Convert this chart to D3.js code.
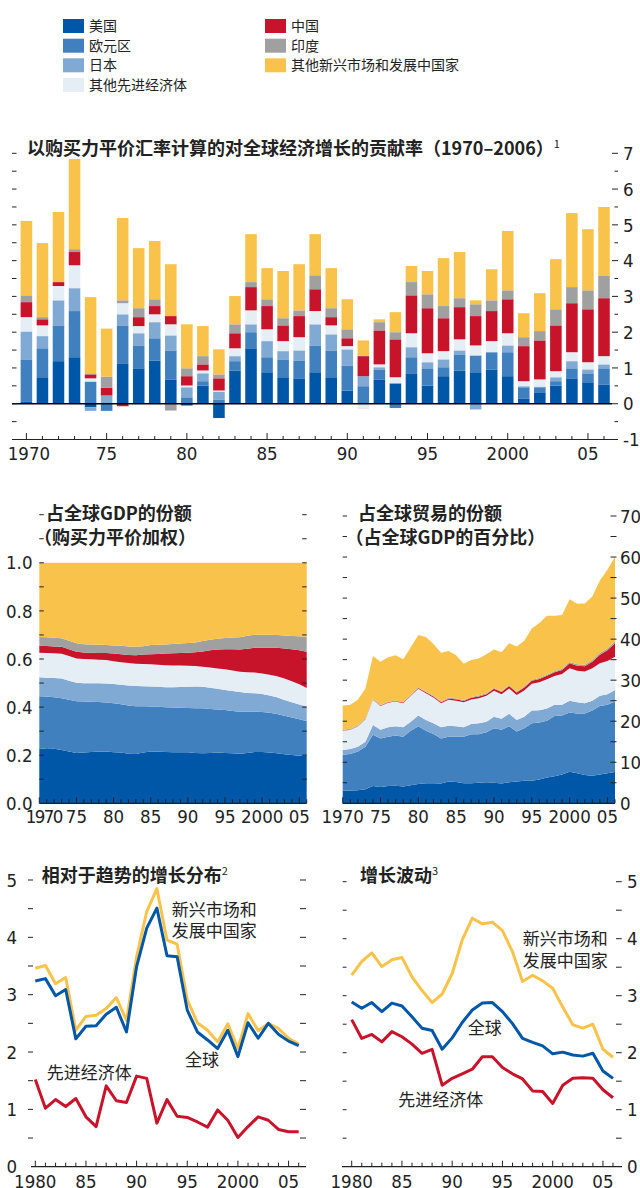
<!DOCTYPE html>
<html><head><meta charset="utf-8">
<script src="https://cdn.jsdelivr.net/npm/d3@7"></script>
<style>body{margin:0;background:#fff}svg{display:block}</style>
</head><body>
<svg id="chart" width="640" height="1188"></svg>
<script>
// ---------------- DATA ----------------
const seriesKeys = ["us","ea","jp","oa","cn","in","oem"];
const seriesNames = ["美国","欧元区","日本","其他先进经济体","中国","印度","其他新兴市场和发展中国家"];

const years = [1970,1971,1972,1973,1974,1975,1976,1977,1978,1979,1980,1981,1982,1983,1984,1985,1986,1987,1988,1989,1990,1991,1992,1993,1994,1995,1996,1997,1998,1999,2000,2001,2002,2003,2004,2005,2006];

// Contributions to world growth (PPP), percentage points
const contribUS  = [0.05,0.74,1.19,1.30,-0.10,0.00,1.13,0.99,1.21,0.68,-0.05,0.51,-0.40,0.93,1.55,0.88,0.74,0.71,0.88,0.74,0.37,0.00,0.68,0.57,0.85,0.51,0.77,0.93,0.88,0.96,0.77,0.15,0.32,0.51,0.71,0.60,0.54];
const contribEA  = [1.19,0.81,1.00,1.29,0.62,-0.20,1.06,0.64,0.62,0.81,0.18,0.12,0.12,0.26,0.45,0.42,0.50,0.50,0.75,0.75,0.70,0.49,0.28,-0.12,0.45,0.48,0.25,0.45,0.47,0.48,0.67,0.31,0.14,0.12,0.28,0.25,0.45];
const contribJP  = [0.78,0.34,0.70,0.64,-0.10,0.23,0.31,0.34,0.45,0.42,0.28,0.22,0.22,0.14,0.22,0.45,0.23,0.28,0.59,0.45,0.45,0.28,0.06,0.00,0.28,0.17,0.22,0.11,-0.16,0.00,0.19,0.03,0.02,0.11,0.20,0.11,0.11];
const contribOA  = [0.40,0.30,0.40,0.64,0.09,0.00,0.31,0.20,0.22,0.31,0.05,0.08,0.03,0.22,0.39,0.33,0.28,0.37,0.37,0.25,0.09,-0.15,0.08,0.17,0.39,0.25,0.23,0.31,0.28,0.31,0.34,0.14,0.20,0.17,0.25,0.20,0.23];
const contribCN  = [0.42,0.17,0.11,0.37,0.11,0.22,-0.07,0.25,0.23,0.23,0.26,0.17,0.34,0.42,0.65,0.65,0.44,0.59,0.61,0.23,0.22,0.56,0.95,1.06,1.06,1.26,0.92,0.90,0.82,0.84,0.95,0.98,1.09,1.28,1.37,1.48,1.62];
const contribIN  = [0.19,0.06,0.00,0.08,0.03,0.31,0.08,0.25,0.19,-0.19,0.22,0.23,0.11,0.25,0.14,0.19,0.20,0.16,0.39,0.25,0.25,0.02,0.23,0.20,0.37,0.39,0.34,0.25,0.33,0.30,0.25,0.25,0.26,0.45,0.45,0.53,0.62];
const contribOEM = [2.08,2.07,1.96,2.52,2.13,1.34,2.30,1.68,1.63,1.45,1.23,0.84,0.70,0.79,1.34,0.87,1.32,1.29,1.15,1.12,0.84,0.42,0.08,0.56,0.45,0.65,1.34,1.29,0.11,0.87,1.66,0.67,1.06,1.40,2.07,1.71,1.93];

// Share of world GDP (PPP weights)
const gdpUS  = [0.229,0.226,0.227,0.222,0.215,0.209,0.211,0.213,0.215,0.215,0.212,0.211,0.206,0.205,0.211,0.215,0.215,0.213,0.212,0.212,0.212,0.209,0.208,0.209,0.211,0.209,0.208,0.206,0.209,0.213,0.213,0.211,0.208,0.204,0.201,0.198,0.197];
const gdpEA  = [0.216,0.218,0.214,0.215,0.216,0.215,0.212,0.209,0.206,0.204,0.204,0.201,0.201,0.199,0.193,0.187,0.186,0.186,0.186,0.185,0.184,0.186,0.187,0.183,0.179,0.179,0.176,0.175,0.172,0.169,0.167,0.165,0.163,0.160,0.156,0.152,0.145];
const gdpJP  = [0.079,0.078,0.080,0.082,0.079,0.077,0.076,0.077,0.078,0.079,0.080,0.081,0.083,0.084,0.083,0.084,0.084,0.084,0.085,0.087,0.089,0.091,0.090,0.088,0.086,0.083,0.083,0.082,0.078,0.076,0.074,0.072,0.070,0.066,0.063,0.061,0.060];
const gdpOA  = [0.102,0.103,0.103,0.103,0.102,0.101,0.101,0.100,0.098,0.098,0.095,0.094,0.093,0.092,0.092,0.092,0.091,0.091,0.090,0.089,0.087,0.085,0.083,0.085,0.085,0.086,0.085,0.084,0.086,0.086,0.086,0.087,0.087,0.089,0.088,0.084,0.077];
const gdpCN  = [0.029,0.029,0.028,0.029,0.029,0.028,0.027,0.027,0.028,0.029,0.032,0.033,0.034,0.036,0.040,0.042,0.045,0.049,0.051,0.052,0.054,0.057,0.063,0.071,0.078,0.084,0.089,0.093,0.098,0.103,0.107,0.112,0.119,0.125,0.133,0.141,0.151];
const gdpIN  = [0.036,0.036,0.036,0.035,0.035,0.035,0.034,0.034,0.034,0.033,0.033,0.035,0.035,0.035,0.034,0.038,0.038,0.037,0.038,0.039,0.041,0.041,0.044,0.044,0.045,0.046,0.048,0.050,0.054,0.054,0.054,0.054,0.053,0.054,0.055,0.059,0.063];
const gdpOEM = [0.309,0.310,0.312,0.314,0.324,0.335,0.339,0.340,0.341,0.342,0.344,0.345,0.348,0.349,0.347,0.342,0.341,0.340,0.338,0.336,0.333,0.331,0.325,0.320,0.316,0.313,0.311,0.310,0.303,0.299,0.299,0.299,0.300,0.302,0.304,0.305,0.307];

// Share of world trade (percent of world GDP)
const tradeUS  = [3.1,3.1,3.2,3.4,4.2,4.0,4.2,4.3,4.1,4.4,4.7,4.9,4.9,4.8,5.3,5.2,4.9,4.9,5.0,5.1,5.0,4.8,5.1,5.3,5.5,5.5,5.8,6.3,6.6,7.0,7.7,7.3,6.9,6.7,7.0,7.3,7.6];
const tradeEA  = [8.7,8.9,9.4,10.4,12.5,11.8,12.0,12.2,12.1,13.3,14.1,12.8,12.0,11.0,10.9,11.0,11.3,11.9,11.8,12.2,13.3,13.1,13.7,12.2,12.8,14.0,13.9,13.8,14.7,14.4,14.4,14.6,15.0,15.9,16.7,16.7,17.2];
const tradeJP  = [1.2,1.2,1.2,1.2,2.4,2.1,2.3,2.3,2.3,2.2,2.6,2.6,2.6,2.7,2.7,2.6,2.3,2.5,2.7,2.6,2.8,2.7,3.0,2.8,2.8,3.1,3.0,3.0,2.7,2.6,2.9,2.7,2.5,2.4,2.5,2.6,2.8];
const tradeOA  = [4.6,4.7,4.9,5.5,6.1,5.8,6.0,6.0,5.9,6.3,6.5,6.5,6.3,5.9,6.3,6.2,6.1,6.0,6.1,6.3,6.3,6.0,6.2,6.1,6.4,6.5,6.8,7.1,7.0,7.5,7.9,7.7,7.7,7.9,7.9,8.1,8.1];
const tradeCN  = [0.1,0.1,0.1,0.1,0.1,0.1,0.1,0.1,0.15,0.15,0.2,0.25,0.25,0.25,0.3,0.35,0.35,0.4,0.45,0.4,0.5,0.5,0.55,0.6,0.7,0.75,0.8,0.85,0.9,1.0,1.2,1.2,1.3,1.6,2.1,2.6,3.3];
const tradeIN  = [0.15,0.15,0.15,0.15,0.15,0.15,0.15,0.15,0.15,0.15,0.15,0.15,0.15,0.15,0.2,0.2,0.2,0.2,0.2,0.2,0.2,0.2,0.2,0.2,0.25,0.25,0.25,0.3,0.3,0.3,0.3,0.35,0.35,0.35,0.4,0.4,0.45];
const tradeOEM = [5.95,5.85,6.25,7.25,10.45,10.55,10.85,11.05,10.4,11.5,12.75,13.3,12.6,11.9,11.4,10.55,8.85,9.0,9.05,9.5,9.4,9.5,10.25,11.0,11.15,12.5,13.35,14.35,13.5,13.1,15.3,14.75,14.95,15.55,17.7,19.2,20.65];

// Bottom panels, 1980-2006
const years80 = [1980,1981,1982,1983,1984,1985,1986,1987,1988,1989,1990,1991,1992,1993,1994,1995,1996,1997,1998,1999,2000,2001,2002,2003,2004,2005,2006];
const distEM    = [3.46,3.51,3.19,3.30,2.38,2.62,2.64,2.76,2.95,2.55,3.66,4.45,4.85,3.95,3.88,2.91,2.51,2.38,2.18,2.49,2.06,2.67,2.37,2.50,2.41,2.24,2.14];
const distWorld = [3.24,3.28,2.98,3.09,2.23,2.45,2.46,2.66,2.78,2.35,3.49,4.16,4.51,3.68,3.66,2.73,2.35,2.21,2.06,2.38,1.92,2.51,2.24,2.50,2.31,2.19,2.11];
const distAdv   = [1.52,1.02,1.17,1.05,1.19,0.87,0.70,1.41,1.15,1.12,1.58,1.54,0.76,1.17,0.88,0.86,0.78,0.69,0.99,0.81,0.51,0.70,0.87,0.81,0.65,0.61,0.61];

const volEM    = [3.36,3.60,3.75,3.51,3.63,3.67,3.33,3.09,2.88,3.03,3.39,3.98,4.36,4.26,4.29,4.14,3.77,3.25,3.36,3.26,3.13,2.80,2.49,2.43,2.50,2.06,1.92];
const volWorld = [2.89,2.78,2.88,2.72,2.87,2.82,2.63,2.43,2.39,2.06,2.26,2.53,2.75,2.87,2.88,2.72,2.51,2.25,2.18,2.12,1.98,2.01,1.96,1.94,1.99,1.68,1.55];
const volAdv   = [2.58,2.25,2.32,2.19,2.37,2.28,2.15,1.99,2.06,1.43,1.55,1.63,1.71,1.93,1.93,1.74,1.63,1.54,1.33,1.32,1.11,1.43,1.55,1.56,1.55,1.35,1.21];

// Tick labels
const topTickYears = [1970,1975,1980,1985,1990,1995,2000,2005];
const topTickLabels = ["1970","75","80","85","90","95","2000","05"];
const bottomTickYears = [1980,1985,1990,1995,2000,2005];
const bottomTickLabels = ["1980","85","90","95","2000","05"];

// ---------------- STYLE ----------------
const colors = {us:"#0056A7", ea:"#4180BF", jp:"#80A9D4", oa:"#E5EDF5", cn:"#C8142B", in:"#A0A0A0", oem:"#F9C34B"};
const CJK = '"Noto Sans CJK SC","Noto Sans",sans-serif';
const NUM = '"Liberation Sans Narrow","DejaVu Sans Condensed","Liberation Sans",sans-serif';
const INK = "#222";

const svg = d3.select("#chart");

function rows(arrs, yrs) {
  return yrs.map((y, i) => {
    const r = {year: y};
    seriesKeys.forEach((k, j) => r[k] = arrs[j][i]);
    return r;
  });
}
function hticks(g, yScale, vals, x1, x2) {
  g.append("g").selectAll("line").data(vals).join("line")
    .attr("x1", x1).attr("x2", x2)
    .attr("y1", d => yScale(d)).attr("y2", d => yScale(d))
    .attr("stroke", INK).attr("stroke-width", 1);
}
function title(x, y, text, sup) {
  const t = svg.append("text").attr("x", x).attr("y", y)
    .attr("font-family", CJK).attr("font-size", 18).attr("font-weight", 700).attr("fill", INK)
    .text(text);
  if (sup) t.append("tspan").attr("font-size", 11).attr("dy", -7).attr("font-weight", 400).text(sup);
}

// ---------------- LEGEND ----------------
const legendRowsY = [19, 38.7, 58.3, 78];
const legend = svg.append("g");
seriesKeys.forEach((k, i) => {
  const col = i < 4 ? 0 : 1;
  const row = i < 4 ? i : i - 4;
  const lx = col === 0 ? 63 : 265;
  legend.append("rect").attr("x", lx).attr("y", legendRowsY[row]).attr("width", 21).attr("height", 14).attr("fill", colors[k]);
  legend.append("text").attr("x", lx + 26).attr("y", legendRowsY[row] + 12)
    .attr("font-family", CJK).attr("font-size", 14).attr("fill", INK).text(seriesNames[i]);
});

// ---------------- TOP: contributions ----------------
{
  const data = rows([contribUS, contribEA, contribJP, contribOA, contribCN, contribIN, contribOEM], years);
  const x = d3.scaleBand().domain(years).range([18.38, 612.02]).paddingInner(0.28).paddingOuter(0.14);
  const y = d3.scaleLinear().domain([-1, 7]).range([439.5, 153.3]);
  const stacked = d3.stack().keys(seriesKeys).offset(d3.stackOffsetDiverging)(data);
  const g = svg.append("g");
  g.selectAll("g.s").data(stacked).join("g").attr("fill", s => colors[s.key])
    .selectAll("rect").data(s => s).join("rect")
    .attr("x", d => x(d.data.year)).attr("width", x.bandwidth())
    .attr("y", d => y(Math.max(d[0], d[1]))).attr("height", d => Math.abs(y(d[0]) - y(d[1])));
  // zero line
  g.append("line").attr("x1", 12).attr("x2", 612).attr("y1", y(0)).attr("y2", y(0)).attr("stroke", "#000").attr("stroke-width", 1.3);
  // y ticks
  const halfs = d3.range(-0.5, 7.01, 0.5);
  hticks(g, y, halfs, 12, 16.5);
  hticks(g, y, halfs.filter(v => v % 1 !== 0), 614.5, 618);
  hticks(g, y, halfs.filter(v => v % 1 === 0), 612, 618);
  g.selectAll("text.yl").data(d3.range(-1, 8)).join("text")
    .attr("x", 623).attr("y", d => y(d)).attr("dy", "0.36em")
    .attr("font-family", NUM).attr("font-size", 18.5).attr("fill", INK)
    .text(d => d < 0 ? "-" + Math.abs(d) : d);
  // x axis
  g.append("line").attr("x1", 12).attr("x2", 618).attr("y1", y(-1)).attr("y2", y(-1)).attr("stroke", INK).attr("stroke-width", 1.2);
  g.selectAll("line.xt").data(years).join("line")
    .attr("x1", d => x(d) + x.bandwidth() / 2).attr("x2", d => x(d) + x.bandwidth() / 2)
    .attr("y1", y(-1)).attr("y2", d => y(-1) - (d % 5 === 0 ? 6.5 : 3.5))
    .attr("stroke", INK).attr("stroke-width", 1);
  g.selectAll("text.xl").data(topTickYears).join("text")
    .attr("x", (d, i) => x(d) + x.bandwidth() / 2 + (i === 0 ? 2.5 : 0)).attr("y", 460)
    .attr("text-anchor", "middle").attr("font-family", NUM).attr("font-size", 18.5).attr("fill", INK)
    .text((d, i) => topTickLabels[i]);
  title(27, 154.5, "以购买力平价汇率计算的对全球经济增长的贡献率（1970–2006）", "1");
}

// ---------------- MIDDLE LEFT: GDP share ----------------
{
  const data = rows([gdpUS, gdpEA, gdpJP, gdpOA, gdpCN, gdpIN, gdpOEM], years);
  const x = d3.scaleLinear().domain([1970, 2006]).range([39.3, 306.7]);
  const y = d3.scaleLinear().domain([0, 1.2]).range([803.3, 514.7]);
  const stacked = d3.stack().keys(seriesKeys)(data);
  const area = d3.area().x(d => x(d.data.year)).y0(d => y(d[0])).y1(d => y(d[1]));
  const g = svg.append("g");
  g.selectAll("path").data(stacked).join("path").attr("d", area).attr("fill", s => colors[s.key]);
  const tv = d3.range(1, 13).map(v => v / 10);
  hticks(g, y, tv, 39.3, 43.8);
  hticks(g, y, tv, 302.2, 306.7);
  g.selectAll("text.yl").data([0, 0.2, 0.4, 0.6, 0.8, 1.0]).join("text")
    .attr("x", 32.5).attr("y", d => y(d)).attr("dy", "0.36em").attr("text-anchor", "end")
    .attr("font-family", NUM).attr("font-size", 18.5).attr("fill", INK).text(d => d.toFixed(1));
  g.append("line").attr("x1", 39.3).attr("x2", 306.7).attr("y1", y(0)).attr("y2", y(0)).attr("stroke", INK).attr("stroke-width", 1.2);
  g.selectAll("line.xt").data(years).join("line")
    .attr("x1", d => x(d)).attr("x2", d => x(d)).attr("y1", y(0)).attr("y2", d => y(0) - (d % 5 === 0 ? 6 : 4))
    .attr("stroke", INK).attr("stroke-width", 1);
  g.selectAll("text.xl").data(topTickYears).join("text")
    .attr("x", (d, i) => x(d) + (i === 0 ? 4.5 : 0)).attr("y", 823)
    .attr("text-anchor", "middle").attr("font-family", NUM).attr("font-size", 18.5).attr("fill", INK)
    .attr("letter-spacing", (d, i) => i === 0 ? -1.6 : 0)
    .text((d, i) => topTickLabels[i]);
  title(46, 520, "占全球GDP的份额");
  title(34, 543.5, "（购买力平价加权）");
}

// ---------------- MIDDLE RIGHT: trade share ----------------
{
  const data = rows([tradeUS, tradeEA, tradeJP, tradeOA, tradeCN, tradeIN, tradeOEM], years);
  const x = d3.scaleLinear().domain([1970, 2006]).range([342.7, 615]);
  const y = d3.scaleLinear().domain([0, 70]).range([803.3, 516]);
  const stacked = d3.stack().keys(seriesKeys)(data);
  const area = d3.area().x(d => x(d.data.year)).y0(d => y(d[0])).y1(d => y(d[1]));
  const g = svg.append("g");
  g.selectAll("path").data(stacked).join("path").attr("d", area).attr("fill", s => colors[s.key]);
  const tv = d3.range(5, 71, 5);
  hticks(g, y, tv, 342.7, 347);
  hticks(g, y, tv, 610.5, 616.5);
  g.selectAll("text.yl").data(d3.range(0, 71, 10)).join("text")
    .attr("x", 620).attr("y", d => y(d)).attr("dy", "0.36em")
    .attr("font-family", NUM).attr("font-size", 18.5).attr("fill", INK).text(d => d);
  g.append("line").attr("x1", 342.7).attr("x2", 615).attr("y1", y(0)).attr("y2", y(0)).attr("stroke", INK).attr("stroke-width", 1.2);
  g.selectAll("line.xt").data(years).join("line")
    .attr("x1", d => x(d)).attr("x2", d => x(d)).attr("y1", y(0)).attr("y2", d => y(0) - (d % 5 === 0 ? 6 : 4))
    .attr("stroke", INK).attr("stroke-width", 1);
  g.selectAll("text.xl").data(topTickYears).join("text")
    .attr("x", d => x(d)).attr("y", 823)
    .attr("text-anchor", "middle").attr("font-family", NUM).attr("font-size", 18.5).attr("fill", INK)
    .text((d, i) => topTickLabels[i]);
  title(358, 520, "占全球贸易的份额");
  title(345.5, 543.5, "（占全球GDP的百分比）");
}

// ---------------- BOTTOM PANELS ----------------
function linePanel(opt) {
  const x = d3.scaleLinear().domain([1980, 2006]).range(opt.xr);
  const y = d3.scaleLinear().domain([0, 5]).range(opt.yr);
  const g = svg.append("g");
  const tv = d3.range(0.5, 5.01, 0.5);
  hticks(g, y, tv, opt.lt[0], opt.lt[1]);
  hticks(g, y, tv, opt.rt[0], opt.rt[1]);
  g.selectAll("text.yl").data([0, 1, 2, 3, 4, 5]).join("text")
    .attr("x", opt.lx).attr("y", d => y(d)).attr("dy", "0.36em").attr("text-anchor", opt.la)
    .attr("font-family", NUM).attr("font-size", 18.5).attr("fill", INK).text(d => d);
  g.append("line").attr("x1", opt.ax[0]).attr("x2", opt.ax[1]).attr("y1", y(0)).attr("y2", y(0)).attr("stroke", INK).attr("stroke-width", 1.2);
  g.selectAll("line.xt").data(years80).join("line")
    .attr("x1", d => x(d)).attr("x2", d => x(d)).attr("y1", y(0)).attr("y2", d => y(0) - (d % 5 === 0 ? 6 : 4))
    .attr("stroke", INK).attr("stroke-width", 1);
  g.selectAll("text.xl").data(bottomTickYears).join("text")
    .attr("x", d => x(d)).attr("y", 1187.5)
    .attr("text-anchor", "middle").attr("font-family", NUM).attr("font-size", 18.5).attr("fill", INK)
    .text((d, i) => bottomTickLabels[i]);
  const line = d3.line().x((d, i) => x(years80[i])).y(d => y(d));
  [[opt.em, colors.oem], [opt.world, colors.us], [opt.adv, colors.cn]].forEach(([vals, c]) => {
    g.append("path").datum(vals).attr("d", line).attr("fill", "none").attr("stroke", c)
      .attr("stroke-width", 3).attr("stroke-linejoin", "round");
  });
  opt.notes.forEach(n => {
    g.append("text").attr("x", n[0]).attr("y", n[1]).attr("font-family", CJK).attr("font-size", 17)
      .attr("fill", INK).text(n[2]);
  });
}
linePanel({xr: [35.3, 298.7], yr: [1166.7, 880], lt: [28, 33], rt: [300, 306], lx: 17, la: "end", ax: [31, 306],
  em: distEM, world: distWorld, adv: distAdv,
  notes: [[171.7, 915.5, "新兴市场和"], [171.7, 937, "发展中国家"], [185, 1066, "全球"], [46.7, 1078.5, "先进经济体"]]});
title(41.7, 882, "相对于趋势的增长分布", "2");
linePanel({xr: [351.7, 613], yr: [1166.7, 881.7], lt: [342.7, 346.5], rt: [616, 621.7], lx: 627, la: "start", ax: [342, 622],
  em: volEM, world: volWorld, adv: volAdv,
  notes: [[522.7, 945, "新兴市场和"], [522.7, 966.5, "发展中国家"], [467.7, 1034, "全球"], [398.3, 1106, "先进经济体"]]});
title(360, 882, "增长波动", "3");
</script>
</body></html>
